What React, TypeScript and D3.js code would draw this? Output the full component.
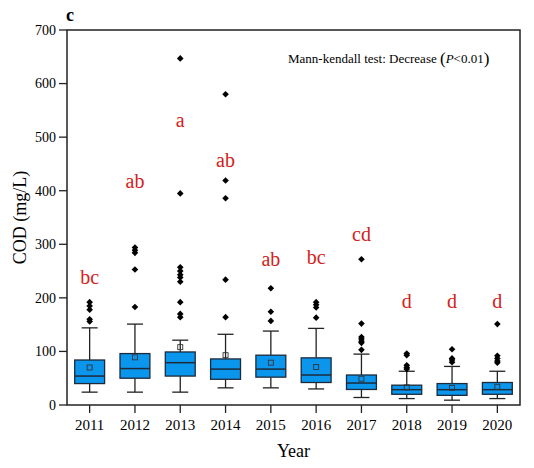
import React from "react";
import * as d3 from "d3";

// Annual COD statistics (mg/L), 2011–2020
const years = ["2011", "2012", "2013", "2014", "2015", "2016", "2017", "2018", "2019", "2020"];
const q1 = [40, 50, 54, 48, 52, 42, 29, 20, 18, 20];
const median = [54, 68, 79, 67, 67, 56, 41, 28.6, 28.6, 28.6];
const q3 = [84, 96, 99, 86, 93, 88, 56, 37, 40, 42];
const mean = [70, 89, 108, 93, 79, 71, 49, 33, 32, 34];
const whiskerLow = [24, 24, 24, 32, 32, 30, 14, 12, 9, 12];
const whiskerHigh = [144, 151, 121, 132, 138, 143, 95, 63, 72, 63];
const outliers = [
  [192, 185, 178, 160, 156],
  [294, 289, 284, 253, 183],
  [647, 395, 257, 250, 243, 238, 230, 192, 170, 164],
  [580, 419, 386, 234, 164],
  [218, 174, 157],
  [192, 187, 182, 163],
  [272, 152, 127, 123, 119, 116, 103],
  [96, 93, 74, 70, 67],
  [104, 87, 84, 80],
  [151, 92, 87, 82, 79],
];
// Significance groups and the COD level their labels sit at
const groupLetters = ["bc", "ab", "a", "ab", "ab", "bc", "cd", "d", "d", "d"];
const letterLevel = [226, 405, 519, 445, 260, 263, 306, 182, 182, 182];
const yTicks = [0, 100, 200, 300, 400, 500, 600, 700];

const W = 534;
const H = 468;
const margin = { left: 67, right: 14, top: 30, bottom: 63 };
const serif = "'Liberation Serif', 'Times New Roman', serif";

export default function App() {
  const x = d3
    .scaleBand<string>()
    .domain(years)
    .range([margin.left, W - margin.right])
    .paddingInner(0.34)
    .paddingOuter(0.17);
  const y = d3.scaleLinear().domain([0, 700]).range([H - margin.bottom, margin.top]);
  const bw = x.bandwidth();
  const cx = (yr: string) => (x(yr) as number) + bw / 2;
  const capW = 16;
  const boxFill = "#0b96ee";
  const ink = "#222";
  const diamond = d3.symbol().type(d3.symbolDiamond2).size(28)();

  return (
    <svg width={W} height={H} style={{ position: "absolute", left: 0, top: 0, background: "#fff" }}>
      {/* panel tag */}
      <text x={66} y={21} fontFamily={serif} fontSize={18} fontWeight="bold">c</text>

      {/* frame */}
      <rect
        x={margin.left}
        y={margin.top}
        width={W - margin.left - margin.right}
        height={H - margin.top - margin.bottom}
        fill="none"
        stroke={ink}
        strokeWidth={1.5}
      />

      {/* y axis */}
      {yTicks.map((t) => (
        <g key={t}>
          <line x1={margin.left - 8} x2={margin.left} y1={y(t)} y2={y(t)} stroke={ink} strokeWidth={1.3} />
          <text x={margin.left - 11} y={y(t)} dy="0.35em" textAnchor="end" fontFamily={serif} fontSize={14}>
            {t}
          </text>
        </g>
      ))}
      <text
        transform={`translate(26, ${(margin.top + H - margin.bottom) / 2}) rotate(-90)`}
        textAnchor="middle"
        fontFamily={serif}
        fontSize={18}
      >
        COD (mg/L)
      </text>

      {/* x axis */}
      {years.map((yr) => (
        <g key={yr}>
          <line x1={cx(yr)} x2={cx(yr)} y1={H - margin.bottom} y2={H - margin.bottom + 8} stroke={ink} strokeWidth={1.3} />
          <text x={cx(yr)} y={H - margin.bottom + 25} textAnchor="middle" fontFamily={serif} fontSize={15}>
            {yr}
          </text>
        </g>
      ))}
      <text x={(margin.left + W - margin.right) / 2} y={457} textAnchor="middle" fontFamily={serif} fontSize={18}>
        Year
      </text>

      {/* boxes */}
      {years.map((yr, i) => {
        const c = cx(yr);
        const x0 = x(yr) as number;
        return (
          <g key={yr}>
            <line x1={c} x2={c} y1={y(whiskerHigh[i])} y2={y(q3[i])} stroke={ink} strokeWidth={1.3} />
            <line x1={c} x2={c} y1={y(q1[i])} y2={y(whiskerLow[i])} stroke={ink} strokeWidth={1.3} />
            <line x1={c - capW / 2} x2={c + capW / 2} y1={y(whiskerHigh[i])} y2={y(whiskerHigh[i])} stroke={ink} strokeWidth={1.3} />
            <line x1={c - capW / 2} x2={c + capW / 2} y1={y(whiskerLow[i])} y2={y(whiskerLow[i])} stroke={ink} strokeWidth={1.3} />
            <rect
              x={x0}
              y={y(q3[i])}
              width={bw}
              height={y(q1[i]) - y(q3[i])}
              fill={boxFill}
              stroke="#1d2a3a"
              strokeWidth={1.3}
            />
            <line x1={x0} x2={x0 + bw} y1={y(median[i])} y2={y(median[i])} stroke="#1d2a3a" strokeWidth={1.5} />
            <rect x={c - 2.5} y={y(mean[i]) - 2.5} width={5} height={5} fill="none" stroke="#333" strokeWidth={0.9} />
            {outliers[i].map((v, k) => (
              <path key={k} d={diamond as string} transform={`translate(${c}, ${y(v)})`} fill="#000" />
            ))}
            <text x={c} y={y(letterLevel[i])} textAnchor="middle" fontFamily={serif} fontSize={20} fill="#d42020">
              {groupLetters[i]}
            </text>
          </g>
        );
      })}

      {/* trend test annotation */}
      <text x={288} y={63} fontFamily={serif} fontSize={13}>
        Mann-kendall test: Decrease{" "}
        <tspan fontSize={17} dy={1}>(</tspan>
        <tspan fontStyle="italic" dy={-1}>P</tspan>
        <tspan>&lt;0.01</tspan>
        <tspan fontSize={17} dy={1}>)</tspan>
      </text>
    </svg>
  );
}
